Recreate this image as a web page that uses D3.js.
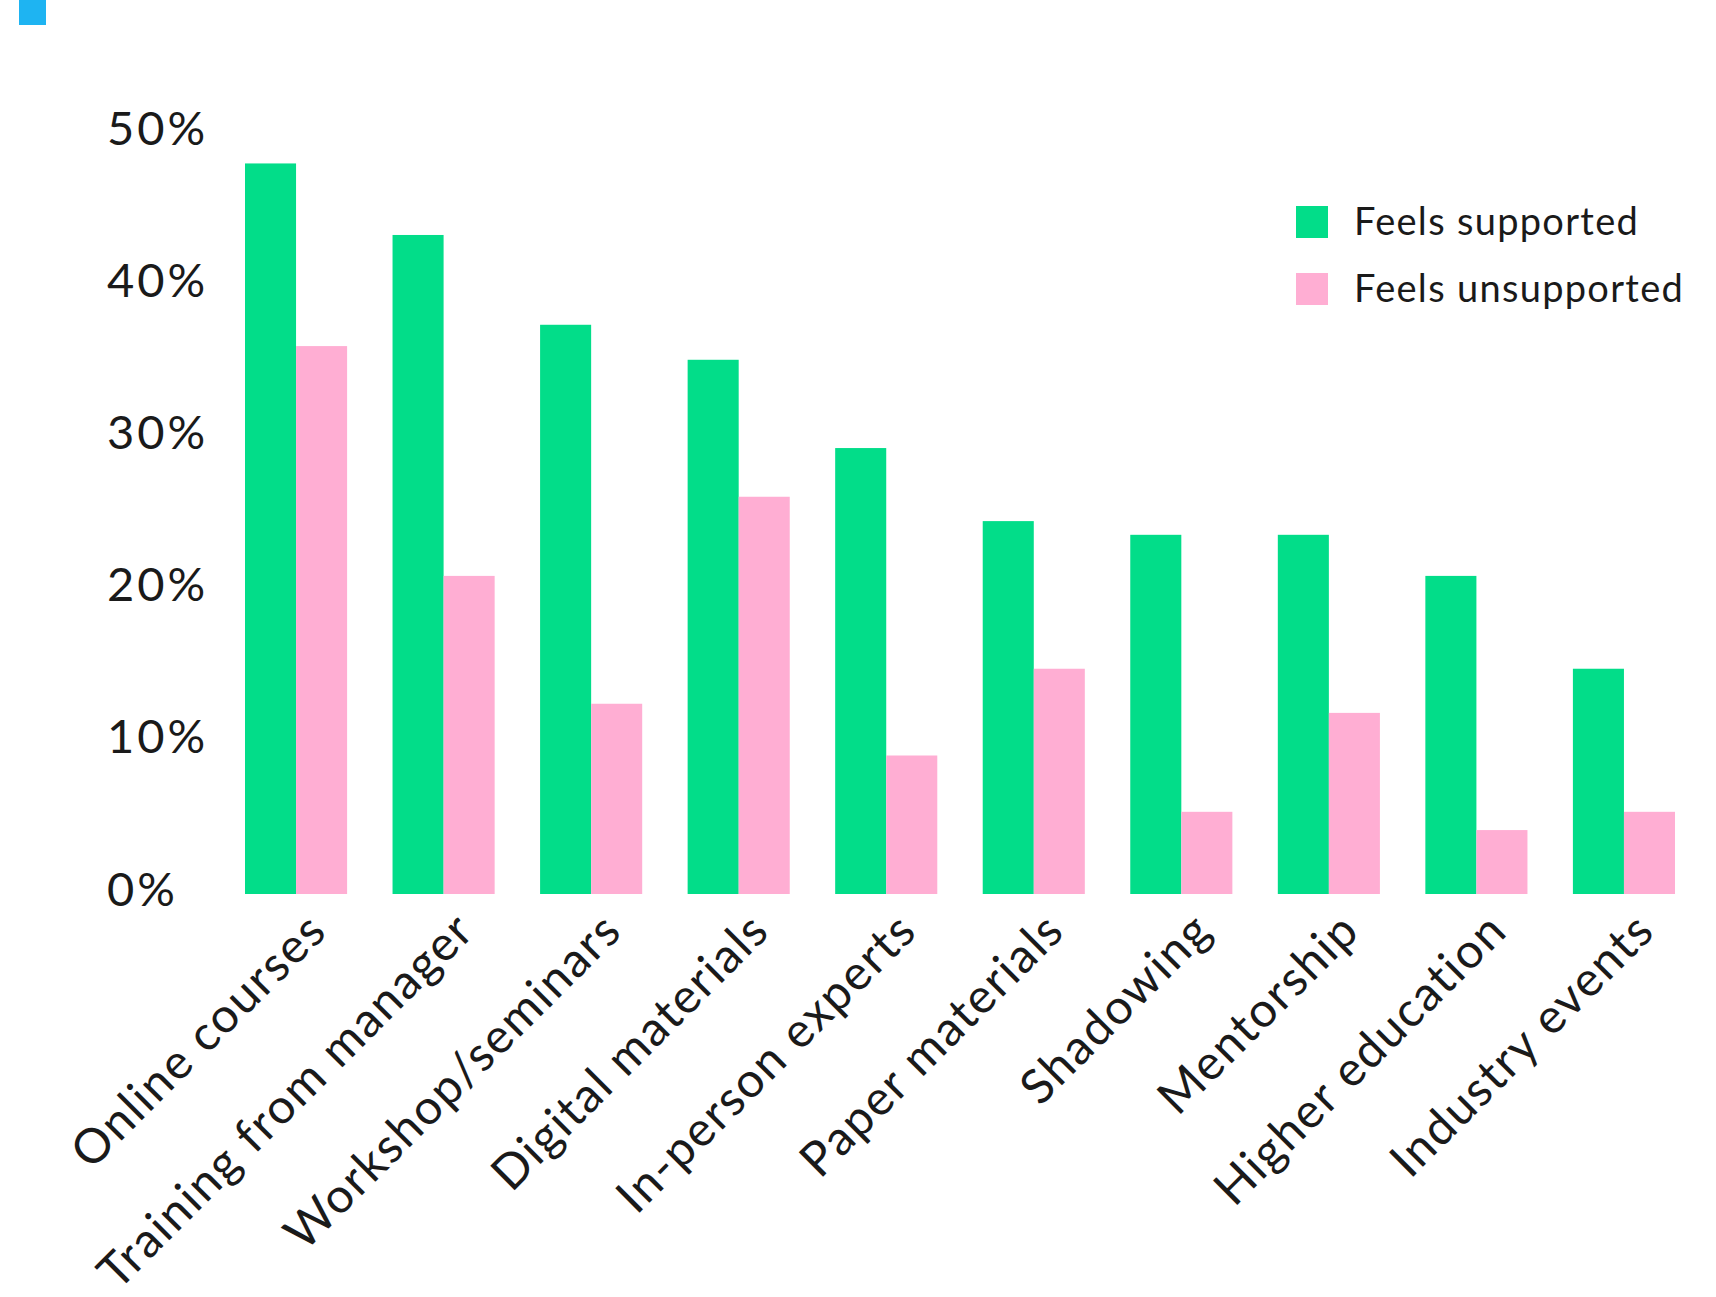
<!DOCTYPE html>
<html>
<meta charset="utf-8">
<head>
    <script src="https://d3js.org/d3.v7.min.js"></script>
    <style>
        body { margin: 0; background: #fff; }
        text { font-family: Lato, sans-serif; fill: #1a1a1a; }
    </style>
</head>
<body>
    <script>
        // data
        var categories = ["Online courses", "Training from manager", "Workshop/seminars",
            "Digital materials", "In-person experts", "Paper materials", "Shadowing",
            "Mentorship", "Higher education", "Industry events"];
        var supported   = [48.0, 43.3, 37.4, 35.1, 29.3, 24.5, 23.6, 23.6, 20.9, 14.8];
        var unsupported = [36.0, 20.9, 12.5, 26.1,  9.1, 14.8,  5.4, 11.9,  4.2,  5.4];
        var seriesNames = ["Feels supported", "Feels unsupported"];
        var yTicks = [0, 10, 20, 30, 40, 50];

        var colors = ["#02dd89", "#ffaed3"];

        var width = 1716,
            height = 1297;

        var svg = d3.select("body").append("svg")
            .attr("width", width)
            .attr("height", height);

        var rows = categories.map(function(c, i) {
            return { name: c, values: [supported[i], unsupported[i]] };
        });

        var x0 = d3.scaleBand()
            .domain(categories)
            .range([245, 1675])
            .paddingInner(0.308)
            .paddingOuter(0);

        var x1 = d3.scaleBand()
            .domain([0, 1])
            .range([0, x0.bandwidth()]);

        var y = d3.scaleLinear()
            .domain([0, 50])
            .range([894, 133]);

        // little blue marker top left
        svg.append("rect")
            .attr("x", 19).attr("y", 0)
            .attr("width", 27).attr("height", 25)
            .attr("fill", "#1eb4f2");

        // y axis, labels only
        var yAxis = svg.append("g")
            .attr("transform", "translate(107,0)")
            .call(d3.axisLeft(y).tickValues(yTicks).tickFormat(function(d) { return d + "%"; }).tickSize(0));
        yAxis.select(".domain").remove();
        yAxis.selectAll("text")
            .attr("x", 0)
            .attr("dy", 11)
            .attr("text-anchor", "start")
            .attr("fill", "#1a1a1a")
            .style("font-size", "47px")
            .style("letter-spacing", "3px")
            .style("font-family", "Lato, sans-serif");

        // bars
        var groups = svg.selectAll("g.group")
            .data(rows)
            .enter().append("g")
            .attr("class", "group")
            .attr("transform", function(d) { return "translate(" + x0(d.name) + ",0)"; });

        groups.selectAll("rect")
            .data(function(d) { return d.values; })
            .enter().append("rect")
            .attr("x", function(d, i) { return x1(i); })
            .attr("width", x1.bandwidth())
            .attr("y", function(d) { return y(d); })
            .attr("height", function(d) { return y(0) - y(d); })
            .attr("fill", function(d, i) { return colors[i]; });

        // x axis, rotated labels
        var xAxis = svg.append("g")
            .attr("transform", "translate(0," + y(0) + ")")
            .call(d3.axisBottom(x0).tickSize(0));
        xAxis.select(".domain").remove();
        xAxis.selectAll("text")
            .attr("x", 0)
            .attr("y", 0)
            .attr("dy", 0)
            .attr("text-anchor", "end")
            .attr("transform", "translate(33,39) rotate(-45)")
            .attr("fill", "#1a1a1a")
            .style("font-size", "48px")
            .style("letter-spacing", "1.7px")
            .style("font-family", "Lato, sans-serif");

        // legend
        var legend = svg.selectAll("g.legend")
            .data(seriesNames)
            .enter().append("g")
            .attr("class", "legend")
            .attr("transform", function(d, i) { return "translate(1296," + (206 + i * 67) + ")"; });

        legend.append("rect")
            .attr("width", 32)
            .attr("height", 32)
            .attr("fill", function(d, i) { return colors[i]; });

        legend.append("text")
            .attr("x", 58)
            .attr("y", 29)
            .style("font-size", "38px")
            .style("letter-spacing", "1.3px")
            .text(function(d) { return d; });
    </script>
</body>
</html>
